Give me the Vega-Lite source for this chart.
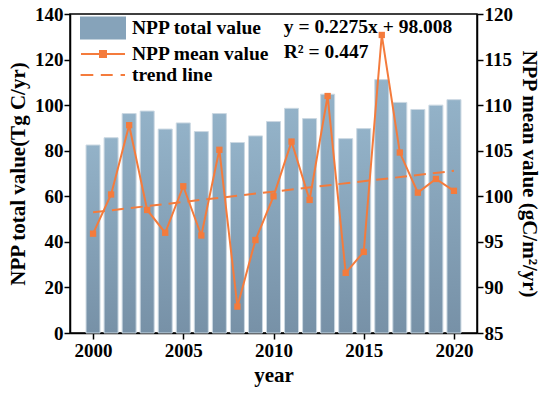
{
  "$schema": "https://vega.github.io/schema/vega-lite/v6.json",
  "width": 407,
  "height": 319,
  "autosize": {"type": "none"},
  "padding": {"left": 70, "top": 14, "right": 73, "bottom": 61},
  "background": "white",
  "datasets": {
    "npp": [
      {"year": 2000, "total": 82.5, "mean": 95.9},
      {"year": 2001, "total": 85.7, "mean": 100.2},
      {"year": 2002, "total": 96.3, "mean": 107.8},
      {"year": 2003, "total": 97.4, "mean": 98.5},
      {"year": 2004, "total": 89.5, "mean": 96.0},
      {"year": 2005, "total": 92.2, "mean": 101.1},
      {"year": 2006, "total": 88.4, "mean": 95.7},
      {"year": 2007, "total": 96.3, "mean": 105.1},
      {"year": 2008, "total": 83.6, "mean": 87.9},
      {"year": 2009, "total": 86.5, "mean": 95.2},
      {"year": 2010, "total": 92.8, "mean": 100.0},
      {"year": 2011, "total": 98.6, "mean": 106.0},
      {"year": 2012, "total": 94.1, "mean": 99.6},
      {"year": 2013, "total": 104.8, "mean": 111.0},
      {"year": 2014, "total": 85.3, "mean": 91.6},
      {"year": 2015, "total": 89.7, "mean": 93.9},
      {"year": 2016, "total": 111.2, "mean": 117.7},
      {"year": 2017, "total": 101.2, "mean": 104.8},
      {"year": 2018, "total": 98.1, "mean": 100.4},
      {"year": 2019, "total": 100.0, "mean": 101.9},
      {"year": 2020, "total": 102.4, "mean": 100.6}
    ],
    "trend": [
      {"year": 2000, "trend": 98.24},
      {"year": 2020, "trend": 102.79}
    ],
    "eq": [
      {"label": ["y = 0.2275x + 98.008", "R² = 0.447"]}
    ]
  },
  "layer": [
    {
      "data": {"name": "npp"},
      "mark": {
        "type": "bar",
        "size": 14,
        "stroke": "#cbd8e2",
        "strokeWidth": 1,
        "color": {
          "gradient": "linear",
          "x1": 0, "y1": 0, "x2": 0, "y2": 1,
          "stops": [
            {"offset": 0, "color": "#93b2c8"},
            {"offset": 1, "color": "#7791a7"}
          ]
        }
      },
      "encoding": {
        "x": {
          "field": "year", "type": "quantitative",
          "scale": {"domain": [1999, 2021], "nice": false, "zero": false},
          "axis": {"values": [2000, 2005, 2010, 2015, 2020], "format": "d", "title": "year", "labelPadding": 2, "titlePadding": 4, "labelFlush": false}
        },
        "y": {
          "field": "total", "type": "quantitative",
          "scale": {"domain": [0, 140], "nice": false},
          "axis": {"orient": "left", "values": [0, 20, 40, 60, 80, 100, 120, 140], "title": "NPP total value(Tg C/yr)", "labelPadding": 1, "titlePadding": 6}
        }
      }
    },
    {
      "data": {"name": "npp"},
      "mark": {"type": "line", "strokeWidth": 2, "point": {"shape": "square", "size": 40, "filled": true, "opacity": 1}},
      "encoding": {
        "x": {"field": "year", "type": "quantitative"},
        "y": {
          "field": "mean", "type": "quantitative",
          "scale": {"domain": [85, 120], "nice": false, "zero": false},
          "axis": {"orient": "right", "values": [85, 90, 95, 100, 105, 110, 115, 120], "title": "NPP mean value (gC/m²/yr)", "labelPadding": 1, "titlePadding": 6}
        },
        "color": {"datum": "NPP mean value", "type": "nominal"}
      }
    },
    {
      "data": {"name": "trend"},
      "mark": {"type": "line", "strokeWidth": 2, "strokeDash": [12, 7]},
      "encoding": {
        "x": {"field": "year", "type": "quantitative"},
        "y": {
          "field": "trend", "type": "quantitative",
          "scale": {"domain": [85, 120], "nice": false, "zero": false},
          "axis": null
        },
        "color": {"datum": "trend line", "type": "nominal"}
      }
    },
    {
      "data": {"name": "eq"},
      "mark": {"type": "text", "align": "left", "baseline": "middle", "font": "Liberation Serif", "fontWeight": "bold", "fontSize": 19.5, "lineHeight": 25, "color": "black"},
      "encoding": {
        "x": {"datum": 2010.57, "type": "quantitative"},
        "y": {"datum": 134.4, "type": "quantitative", "scale": {"domain": [0, 140], "nice": false}, "axis": null},
        "text": {"field": "label"}
      }
    }
  ],
  "resolve": {"scale": {"y": "independent"}},
  "encoding": {
    "color": {
      "type": "nominal",
      "scale": {"domain": ["NPP total value", "NPP mean value", "trend line"], "range": ["#86a3ba", "#f47b3c", "#f47b3c"]},
      "legend": {
        "orient": "none",
        "legendX": 22,
        "legendY": 3,
        "title": null,
        "symbolSize": 400,
        "labelOffset": 18,
        "rowPadding": 0,
        "labelFont": "Liberation Serif",
        "labelFontWeight": "bold",
        "labelFontSize": 19.5,
        "labelColor": "black",
        "symbolStrokeWidth": 2,
        "encode": {
          "symbols": {
            "update": {
              "shape": {"signal": "datum.label === 'NPP total value' ? 'M-2.2,-1.05H2.2V1.05H-2.2Z' : datum.label === 'NPP mean value' ? 'M-2.2,0H2.2M-0.3,-0.3H0.3V0.3H-0.3Z' : 'M-2.24,0H-0.97M-0.22,0H0.97M1.76,0H2.2'"},
              "fill": {"signal": "datum.label === 'NPP total value' ? '#86a3ba' : datum.label === 'NPP mean value' ? '#f47b3c' : 'transparent'"},
              "stroke": {"signal": "datum.label === 'NPP total value' ? 'transparent' : '#f47b3c'"},
              "opacity": {"value": 1},
              "fillOpacity": {"value": 1},
              "strokeWidth": {"value": 2}
            }
          }
        }
      }
    }
  },
  "config": {
    "view": {"stroke": "black", "strokeWidth": 1.5},
    "axis": {
      "grid": false,
      "domainColor": "black", "domainWidth": 1.5,
      "tickColor": "black", "tickWidth": 1.5, "tickSize": 6,
      "labelFont": "Liberation Serif", "labelFontWeight": "bold", "labelFontSize": 19, "labelColor": "black",
      "titleFont": "Liberation Serif", "titleFontWeight": "bold", "titleFontSize": 21, "titleColor": "black"
    }
  }
}
